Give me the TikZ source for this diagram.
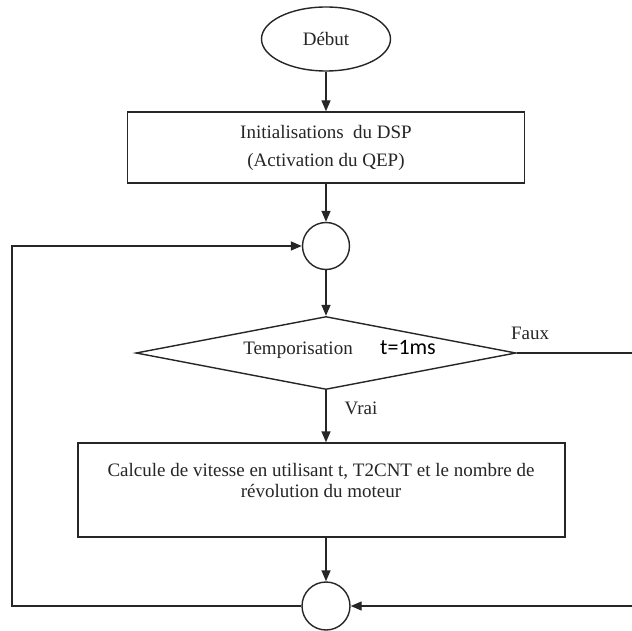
\documentclass[tikz,border=0pt]{standalone}
\usepackage{fontspec}
\setmainfont{Liberation Serif}
\newfontfamily\calib{Carlito}
\usetikzlibrary{shapes.geometric,arrows.meta}
\begin{document}
\begin{tikzpicture}[x=1pt,y=-1pt,
  ln/.style={line width=1.4pt, draw=black!85},
  arr/.style={ln, -{Triangle[length=11pt,width=9pt]}},
  txt/.style={font=\fontsize{19}{22}\selectfont, text=black!85, inner sep=0pt},
]
\useasboundingbox (0,0) rectangle (632,631);
\clip (0,0) rectangle (632,631);
\fill[white] (0,0) rectangle (632,631);
% nodes
\node[ellipse, ln, minimum width=129pt, minimum height=64pt, inner sep=0pt, txt] (debut) at (326,39) {Début};
\node[rectangle, ln, minimum width=397pt, minimum height=71pt, inner sep=0pt, text=black!85, align=center, font=\fontsize{19}{28}\selectfont] (init) at (326,147.5) {Initialisations\ \ du DSP\\(Activation du QEP)};
\node[circle, ln, minimum size=47pt, inner sep=0pt] (c1) at (326,246) {};
\node[diamond, ln, minimum width=380pt, minimum height=73pt, inner sep=0pt] (dec) at (326,353) {};
\node[txt] (tempo) at (298,350) {Temporisation};
\node[font=\calib\fontsize{22}{26}\selectfont, text=black, inner sep=0pt] (tms) at (408,348) {t=1ms};
\node[txt] (faux) at (530,333) {Faux};
\node[txt] (vrai) at (361,408) {Vrai};
\node[rectangle, ln, minimum width=487pt, minimum height=94pt, inner sep=0pt] (calc) at (321.5,490) {};
\node[txt, align=center, font=\fontsize{19}{21}\selectfont] (calct) at (321,480) {Calcule de vitesse en utilisant t, T2CNT et le nombre de\\révolution du moteur};
\node[circle, ln, minimum size=48pt, inner sep=0pt] (c2) at (326,606) {};
\coordinate (lcorner) at (12,246);
\coordinate (rcorner) at (636,606);
% connectors
\draw[arr] (debut.south) -- (init.north);
\draw[arr] (init.south) -- (c1.north);
\draw[arr] (c1.south) -- (dec.north);
\draw[arr] (dec.south) -- (dec.south |- calc.north);
\draw[arr] (c2.north |- calc.south) -- (c2.north);
\draw[arr] (c2.west) -| (lcorner) -- (c1.west);
\draw[arr] (dec.east) -| (rcorner) -- (c2.east);
\end{tikzpicture}
\end{document}
